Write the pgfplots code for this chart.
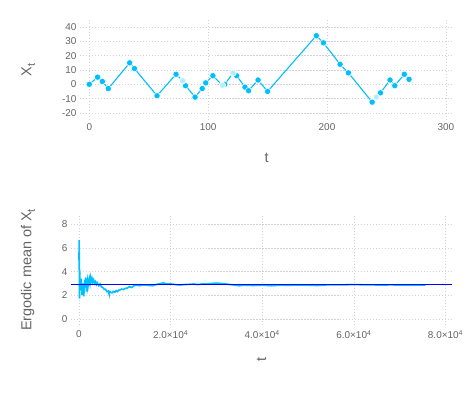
\documentclass[border=0pt]{standalone}
\usepackage{fontspec}
\setmainfont{Liberation Sans}
\usepackage{pgfplots}
\pgfplotsset{compat=1.18}

\definecolor{walk}{RGB}{0,191,255}
\definecolor{gridc}{RGB}{208,208,226}
\definecolor{txt}{RGB}{100,100,100}

\newcommand{\sub}[1]{\raisebox{-0.45ex}{\fontsize{11}{11}\selectfont #1}}

\pgfplotsset{
  julia/.style={
    scale only axis,
    axis line style={draw=none},
    major tick length=0pt,
    grid=major,
    major grid style={gridc, dash pattern=on 1.5pt off 1.5pt, line width=0.5pt},
    tick label style={font=\fontsize{10}{12}\selectfont, text=txt},
    label style={font=\fontsize{14.5}{17}\selectfont, text=txt},
  }
}

\begin{document}
\begin{tikzpicture}[x=1bp,y=1bp]
\path[use as bounding box] (0,0) rectangle (473,394);

% sample path
\begin{axis}[julia,
  at={(80bp,274bp)}, anchor=south west,
  width=373bp, height=100bp,
  xmin=-7.8, xmax=306, ymin=-25, ymax=45,
  xtick={0,100,200,300},
  xticklabels={0,100,200,300},
  ytick={-20,-10,0,10,20,30,40},
  yticklabels={-20,-10,0,10,20,30,40},
  xlabel={t},
  ylabel={X\sub{t}},
  xlabel style={at={(axis description cs:0.5,-0.38)}, anchor=center},
  ylabel style={at={(axis description cs:-0.139,0.5)}, anchor=center},
]
\addplot[walk, line width=1.1pt, mark=*, mark size=3.2pt,
  mark options={fill=walk, draw=white, line width=0.6pt}]
  coordinates {
  (0,0) (7,5) (11,2) (16,-3) (34,15) (38,11) (57,-8) (73,7) (78.5,2.5)
  (81,-1) (89,-9) (95,-3) (98,1) (104,6) (112,-0.7) (114,0) (121,8)
  (124,6) (131,-2) (134,-4.5) (142,3) (150,-5) (191,34) (197,29)
  (211,14) (218,8) (238,-12.5) (241.5,-9) (245,-6) (253,3) (257,-1)
  (265,7) (269,3.5)
  };
\addplot[only marks, mark=*, mark size=3.2pt,
  mark options={fill=walk!30, draw=white, line width=0.8pt}]
  coordinates {(78.5,2.5) (112,-0.7) (121,8) (241.5,-9)};
\end{axis}

% ergodic mean
\begin{axis}[julia,
  at={(71bp,69bp)}, anchor=south west,
  width=381bp, height=110bp,
  xmin=-1745, xmax=81420, ymin=-0.53, ymax=8.8,
  xtick={0,20000,40000,60000,80000},
  xticklabels={0,
    2.0×10\textsuperscript{4},
    4.0×10\textsuperscript{4},
    6.0×10\textsuperscript{4},
    8.0×10\textsuperscript{4}},
  scaled x ticks=false,
  xticklabel style={yshift=-2bp},
  ytick={0,2,4,6,8},
  yticklabels={0,2,4,6,8},
  xlabel={t},
  ylabel={Ergodic mean of X\sub{t}},
  xlabel style={at={(axis description cs:0.5,-0.318)}, anchor=center, rotate=90},
  ylabel style={at={(axis description cs:-0.113,0.5)}, anchor=center},
]
\addplot[walk, line width=1.6pt] coordinates {
  (0,5.0) (30,6.7) (60,4.5) (100,1.7) (140,4.2) (200,3.2) (260,2.5)
  (330,3.1) (400,2.4) (480,3.4) (560,2.9) (650,2.0) (720,2.7) (800,3.0)
  (880,2.2) (950,2.6) (1050,1.9) (1150,2.7) (1250,3.3) (1350,2.8)
  (1450,3.5) (1550,2.9) (1650,2.3) (1750,2.9) (1850,3.2) (1950,2.7)
  (2100,3.1) (2250,3.4) (2400,3.0) (2550,3.5) (2700,3.2) (2850,3.4)
  (3000,3.1) (3200,3.3) (3400,3.0) (3600,3.15) (3800,2.9) (4000,3.05)
  (4300,2.8) (4600,2.95) (4900,2.7) (5200,2.65) (5500,2.5) (5800,2.5)
  (6100,2.3) (6400,2.35) (6600,2.05) (6700,2.3) (6900,2.25) (7200,2.2)
  (7500,2.32) (7800,2.25) (8100,2.38) (8400,2.3) (8700,2.42) (9000,2.45)
  (9300,2.52) (9700,2.48) (10100,2.58) (10500,2.6) (11000,2.72)
  (11500,2.65) (12000,2.8) (12600,2.86) (13200,2.8) (14000,2.87)
  (15000,2.84) (16000,2.8) (17000,2.92) (18000,3.0) (18500,3.05)
  (19000,2.95) (20000,2.96) (21000,2.9) (22000,2.86) (23000,2.9)
  (24000,2.92) (25000,2.95) (26000,2.9) (27000,2.96) (28000,2.95)
  (29000,3.0) (30000,3.02) (31000,3.0) (32000,2.95) (33000,2.9)
  (34000,2.85) (35000,2.8) (36000,2.85) (38000,2.82) (40000,2.85)
  (42000,2.8) (44000,2.85) (46000,2.84) (48000,2.86) (50000,2.85)
  (52000,2.82) (54000,2.87) (56000,2.87) (58000,2.88) (60000,2.9)
  (62000,2.88) (64000,2.87) (66000,2.86) (68000,2.87) (70000,2.86)
  (72000,2.85) (74000,2.85) (75600,2.85)
};
\addplot[blue, line width=0.8pt] coordinates {(-1745,2.88) (81420,2.88)};
\end{axis}
\end{tikzpicture}
\end{document}
